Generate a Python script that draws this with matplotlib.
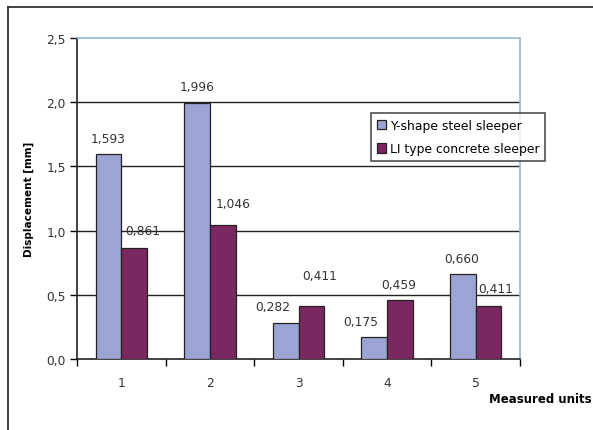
import numpy as np
import matplotlib
matplotlib.use('Agg')
import matplotlib.pyplot as plt
from matplotlib.lines import Line2D

plt.rcParams['font.family'] = ['DejaVu Sans']

# data
units = ['1', '2', '3', '4', '5']
steel = [1.593, 1.996, 0.282, 0.175, 0.660]
concrete = [0.861, 1.046, 0.411, 0.459, 0.411]
steel_labels = ['1,593', '1,996', '0,282', '0,175', '0,660']
concrete_labels = ['0,861', '1,046', '0,411', '0,459', '0,411']
yticks = [0.0, 0.5, 1.0, 1.5, 2.0, 2.5]
ytick_labels = ['0,0', '0,5', '1,0', '1,5', '2,0', '2,5']

colour_steel = '#9ca4d4'
colour_conc = '#7b2760'
colour_frame = '#9ab8d0'

# label nudges in pixels (excel placed them a bit irregularly)
steel_off = [(0, 16), (0, 16), (-13, 16), (-14, 15), (-1, 16)]
conc_off = [(9, 18), (10, 21), (8, 31), (-1, 16), (7, 18)]

fig = plt.figure(figsize=(5.93, 4.31), dpi=100)
ax = fig.add_axes([77/593, 71/431, 443/593, 321/431])

x = np.arange(len(units))
w = 0.29
ax.bar(x - w/2, steel, w, color=colour_steel, edgecolor='#222222', linewidth=0.9,
       label='Y-shape steel sleeper', zorder=3)
ax.bar(x + w/2, concrete, w, color=colour_conc, edgecolor='#222222', linewidth=0.9,
       label='LI type concrete sleeper', zorder=3)

px = 0.72  # points per pixel at 100 dpi
for i in range(len(units)):
    ax.annotate(steel_labels[i], (x[i] - w/2, steel[i]),
                xytext=(steel_off[i][0]*px, steel_off[i][1]*px), textcoords='offset points',
                ha='center', va='center', fontsize=8.8, color='#333333', zorder=4)
    ax.annotate(concrete_labels[i], (x[i] + w/2, concrete[i]),
                xytext=(conc_off[i][0]*px, conc_off[i][1]*px), textcoords='offset points',
                ha='center', va='center', fontsize=8.8, color='#333333', zorder=4)

ax.set_xlim(-0.5, len(units) - 0.5)
ax.set_ylim(0, 2.5)
ax.set_yticks(yticks)
ax.set_yticklabels(ytick_labels, fontsize=8.8, color='#333333')
ax.set_xticks(x)
ax.set_xticklabels(units, fontsize=8.8, color='#333333')
ax.set_xticks(np.arange(len(units) + 1) - 0.5, minor=True)
ax.tick_params(axis='x', which='major', length=0, pad=12)
ax.tick_params(axis='x', which='minor', length=5, width=1, direction='out')
ax.tick_params(axis='y', length=5, width=1, direction='out', pad=3)

for yv in yticks[1:-1]:
    ax.axhline(yv, color='#222222', linewidth=1, zorder=1)

ax.spines['left'].set_color('#222222')
ax.spines['bottom'].set_color('#222222')
ax.spines['top'].set_color(colour_frame)
ax.spines['right'].set_color(colour_frame)
for s in ax.spines.values():
    s.set_linewidth(1.2)

ax.set_ylabel('Displacement [mm]', fontsize=7.6, fontweight='bold', labelpad=9)
fig.text(592/593, 1 - 400/431, 'Measured units', fontsize=8.5, fontweight='bold',
         ha='right', va='center')

leg = ax.legend(loc='upper left', bbox_to_anchor=(371/593, 1 - 114/431),
                bbox_transform=fig.transFigure, fontsize=8.9, frameon=True,
                fancybox=False, handlelength=0.8, handleheight=0.8,
                handletextpad=0.3, borderpad=0.45, labelspacing=0.85, borderaxespad=0)
leg.get_frame().set_edgecolor('#222222')
leg.get_frame().set_linewidth(1.2)
leg.set_zorder(5)

# outer chart frame
fig.add_artist(Line2D([8/593, 1], [1 - 8/431, 1 - 8/431], transform=fig.transFigure,
                      color='#333333', linewidth=1.3))
fig.add_artist(Line2D([8/593, 8/593], [0, 1 - 8/431], transform=fig.transFigure,
                      color='#333333', linewidth=1.3))

fig.savefig('out.png', dpi=100)
